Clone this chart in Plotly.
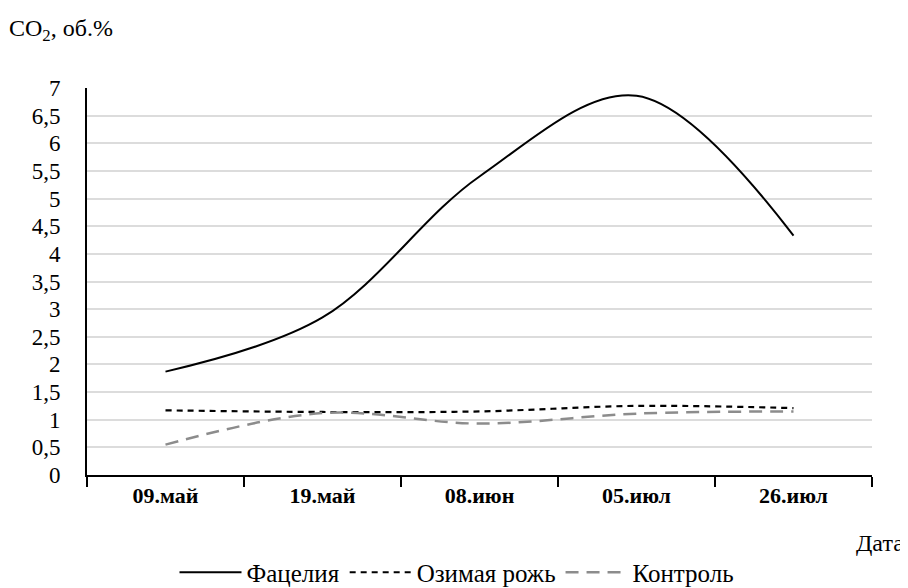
import plotly.graph_objects as go

categories = ["09.май", "19.май", "08.июн", "05.июл", "26.июл"]
facelia = [1.87, 2.85, 5.40, 6.86, 4.33]
rye = [1.17, 1.14, 1.15, 1.25, 1.21]
control = [0.55, 1.12, 0.93, 1.11, 1.15]
y_ticks = [0, 0.5, 1, 1.5, 2, 2.5, 3, 3.5, 4, 4.5, 5, 5.5, 6, 6.5, 7]
y_tick_labels = [("%g" % v).replace(".", ",") for v in y_ticks]

FONT = "Liberation Serif"

# the page body has an 8px margin, so the figure is placed at (8, 8)
W, H = 900, 600
L, T = 79, 80
R = W - 864
B = H - 469
pw = W - L - R
ph = H - T - B


def px(x):
    return (x - 8 - L) / pw


def py(y):
    return (H - B - (y - 8)) / ph


fig = go.Figure()
fig.add_trace(go.Scatter(x=categories, y=facelia, name="Фацелия", mode="lines",
                         line=dict(color="black", width=2, shape="spline", smoothing=1.0)))
fig.add_trace(go.Scatter(x=categories, y=rye, name="Озимая рожь", mode="lines",
                         line=dict(color="black", width=2.2, dash="6px,5px", shape="spline", smoothing=1.0)))
fig.add_trace(go.Scatter(x=categories, y=control, name="Контроль", mode="lines",
                         line=dict(color="#8c8c8c", width=2.5, dash="13px,8px", shape="spline", smoothing=1.0)))

fig.update_layout(
    width=W, height=H,
    margin=dict(l=L, r=R, t=T, b=B),
    paper_bgcolor="white", plot_bgcolor="white",
    font=dict(family=FONT, size=22, color="black"),
    showlegend=True,
    legend=dict(orientation="h", x=px(457), xanchor="center", y=py(575), yanchor="middle",
                font=dict(family=FONT, size=25), itemwidth=62, tracegroupgap=0,
                borderwidth=0),
    annotations=[
        dict(text="CO<sub>2</sub>, об.%", x=px(7), y=py(30), xref="paper", yref="paper",
             showarrow=False, xanchor="left", yanchor="middle",
             font=dict(family=FONT, size=24)),
        dict(text="Дата", x=px(906), y=py(545), xref="paper", yref="paper",
             showarrow=False, xanchor="right", yanchor="middle",
             font=dict(family=FONT, size=24)),
    ],
)

fig.update_xaxes(
    type="category", range=[-0.5, 4.5],
    showline=True, linecolor="black", linewidth=2,
    ticks="outside", tickson="boundaries", ticklen=10, tickcolor="black", tickwidth=1.5,
    showgrid=False, zeroline=False,
    tickfont=dict(family=FONT, size=22, weight="bold"),
)
fig.update_yaxes(
    range=[0, 7], tickvals=y_ticks, ticktext=y_tick_labels,
    showline=True, linecolor="black", linewidth=2,
    showgrid=True, gridcolor="#dcdcdc", gridwidth=1.5,
    zeroline=False, ticks="", ticklabelstandoff=20,
    tickfont=dict(family=FONT, size=23),
)

fig.write_html("out.html")
